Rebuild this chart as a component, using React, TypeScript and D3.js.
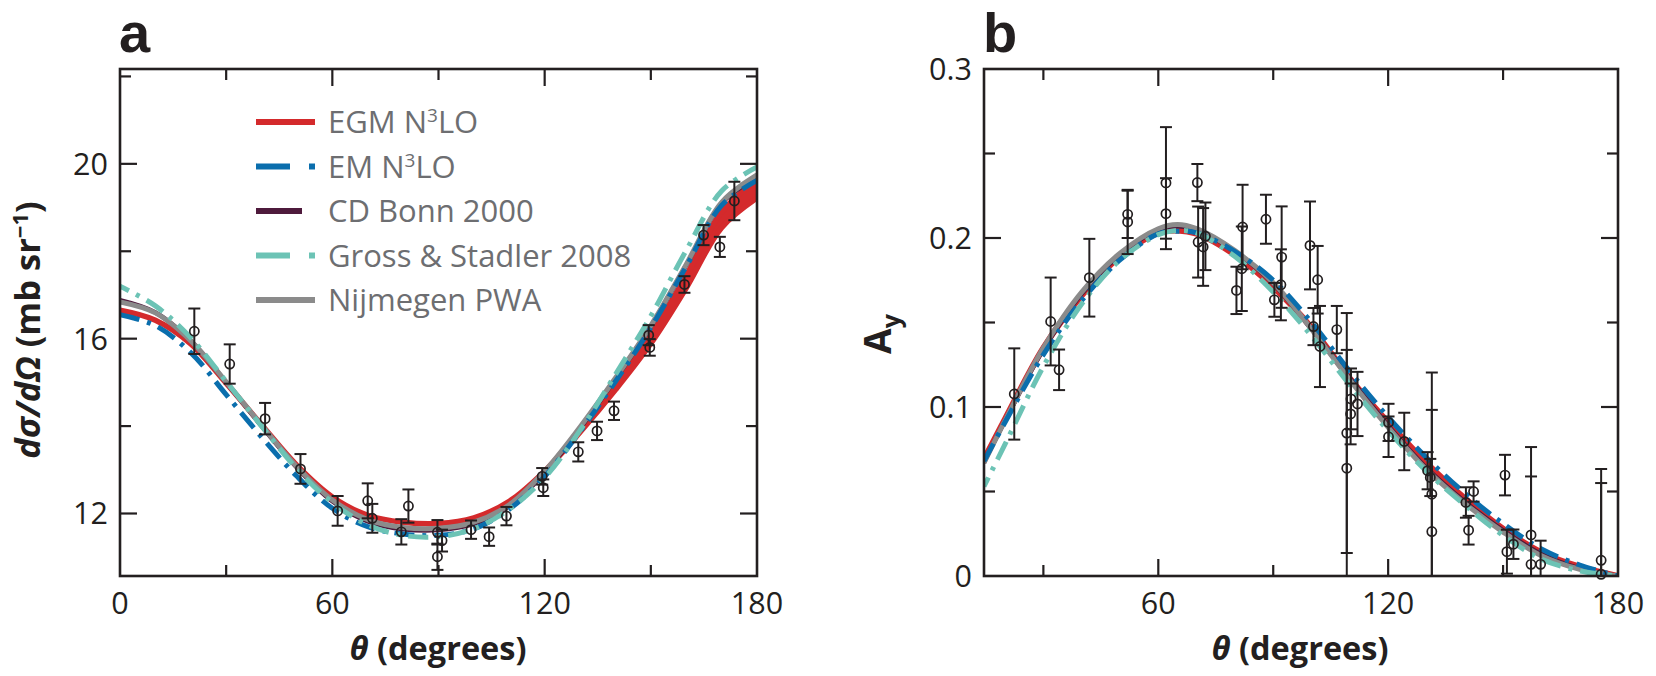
import React from 'react';
import * as d3 from 'd3';

// ---------- Panel a: differential cross section ----------
const thetaA = [0, 10, 20, 30, 40, 50, 60, 70, 80, 90, 100, 110, 120, 130, 140, 150, 160, 170, 180];
const egmA = [16.65, 16.42, 15.88, 14.98, 14.03, 13.1, 12.38, 11.96, 11.8, 11.77, 11.9, 12.28, 12.97, 13.88, 14.88, 15.98, 17.3, 18.72, 19.42];
const egmAHalf = [0, 0, 0, 0, 0, 0, 0, 0, 0, 0, 0, 0, 0, 0.02, 0.05, 0.09, 0.14, 0.18, 0.2];
const emA = [16.55, 16.3, 15.68, 14.72, 13.75, 12.85, 12.12, 11.7, 11.53, 11.5, 11.65, 12.1, 12.85, 13.88, 15.02, 16.25, 17.65, 19.05, 19.62];
const cdBonnA = [16.88, 16.6, 15.95, 15.0, 14.0, 13.05, 12.28, 11.82, 11.64, 11.62, 11.76, 12.17, 12.93, 13.95, 15.08, 16.28, 17.68, 19.1, 19.7];
const grossA = [17.2, 16.75, 16.02, 15.02, 14.0, 13.02, 12.25, 11.74, 11.5, 11.47, 11.65, 12.1, 12.82, 13.9, 15.18, 16.52, 18.02, 19.38, 19.93];
const nijmA = [16.84, 16.59, 15.95, 15.01, 14.02, 13.07, 12.31, 11.86, 11.68, 11.66, 11.8, 12.2, 12.97, 13.98, 15.1, 16.3, 17.7, 19.12, 19.75];

const ptThetaA = [21, 31, 41, 51, 61.5, 70, 71.3, 79.5, 81.5, 89.7, 91, 89.7, 99.2, 104.3, 109.2, 119.3, 119.6, 129.5, 134.8, 139.6, 149.4, 149.7, 159.5, 164.9, 169.5, 173.6];
const ptValA = [16.17, 15.42, 14.17, 13.02, 12.06, 12.29, 11.89, 11.58, 12.17, 11.57, 11.38, 11.01, 11.63, 11.47, 11.94, 12.85, 12.59, 13.41, 13.89, 14.35, 16.08, 15.8, 17.24, 18.37, 18.1, 19.15];
const ptErrA = [0.52, 0.45, 0.36, 0.34, 0.34, 0.4, 0.33, 0.29, 0.38, 0.28, 0.25, 0.3, 0.21, 0.21, 0.21, 0.19, 0.19, 0.22, 0.21, 0.21, 0.23, 0.19, 0.19, 0.23, 0.23, 0.44];

const yTicksA = [12, 14, 16, 18, 20, 22];
const yLabelsA = [12, 16, 20];
const xTicksA = [30, 60, 90, 120, 150];
const xLabelsA = [0, 60, 120, 180];

// ---------- Panel b: analyzing power ----------
const thetaB = [14.5, 20, 30, 40, 50, 60, 65, 70, 80, 90, 100, 110, 120, 130, 140, 150, 160, 170, 180];
const egmB = [0.069, 0.093, 0.135, 0.166, 0.189, 0.203, 0.2045, 0.2025, 0.19, 0.171, 0.147, 0.117, 0.091, 0.067, 0.046, 0.028, 0.014, 0.0055, 0];
const emB = [0.068, 0.091, 0.131, 0.163, 0.187, 0.2025, 0.204, 0.203, 0.192, 0.175, 0.15, 0.121, 0.094, 0.07, 0.049, 0.031, 0.016, 0.0065, 0];
const cdBonnB = [0.067, 0.092, 0.134, 0.167, 0.19, 0.205, 0.207, 0.205, 0.192, 0.173, 0.146, 0.117, 0.089, 0.064, 0.044, 0.027, 0.013, 0.0045, 0];
const grossB = [0.053, 0.078, 0.124, 0.161, 0.187, 0.202, 0.2045, 0.203, 0.189, 0.168, 0.142, 0.113, 0.086, 0.062, 0.042, 0.024, 0.01, 0.003, 0];
const nijmB = [0.067, 0.092, 0.135, 0.168, 0.191, 0.2055, 0.208, 0.2055, 0.1925, 0.1735, 0.146, 0.116, 0.088, 0.063, 0.043, 0.026, 0.012, 0.004, 0];

const ptThetaB = [22.4, 31.9, 34.1, 42, 52, 52, 62, 62, 70.2, 70.4, 71.7, 72.3, 80.4, 82, 81.8, 88.1, 90.3, 92, 92.2, 99.6, 100.5, 101.6, 102.2, 106.6, 109.2, 109.2, 110.2, 110.3, 112, 120.1, 120.1, 124.2, 130.3, 131, 131.4, 131.4, 140.3, 141, 142.3, 150.5, 151, 152.7, 157.3, 157.3, 159.8, 175.6, 175.6];
const ptValB = [0.1077, 0.1506, 0.122, 0.1765, 0.214, 0.2095, 0.2326, 0.2144, 0.2328, 0.1976, 0.1947, 0.201, 0.169, 0.2065, 0.1818, 0.2111, 0.1634, 0.1723, 0.1887, 0.1956, 0.1476, 0.1753, 0.1358, 0.1458, 0.0846, 0.0638, 0.0959, 0.1048, 0.1018, 0.0909, 0.0824, 0.0796, 0.0623, 0.0583, 0.0484, 0.0263, 0.0435, 0.0271, 0.05, 0.0597, 0.0144, 0.0188, 0.0243, 0.0069, 0.0069, 0.0093, 0.001];
const ptErrB = [0.027, 0.026, 0.012, 0.023, 0.014, 0.019, 0.033, 0.021, 0.011, 0.021, 0.023, 0.02, 0.014, 0.025, 0.025, 0.0145, 0.01, 0.021, 0.03, 0.026, 0.011, 0.02, 0.024, 0.014, 0.071, 0.07, 0.018, 0.018, 0.019, 0.011, 0.012, 0.017, 0.011, 0.011, 0.072, 0.072, 0.009, 0.0085, 0.006, 0.012, 0.013, 0.0087, 0.052, 0.052, 0.014, 0.054, 0.054];

const yTicksB = [0.05, 0.1, 0.15, 0.2, 0.25];
const yLabelsB = [0, 0.1, 0.2, 0.3];
const xTicksB = [30, 60, 90, 120, 150];
const xLabelsB = [60, 120, 180];

const legendNames = ['EGM N', 'EM N', 'CD Bonn 2000', 'Gross & Stadler 2008', 'Nijmegen PWA'];

const RED = '#d42a2c';
const BLUE = '#0a6ead';
const PURPLE = '#4e1a3c';
const TEAL = '#6cc3b5';
const GRAY = '#8b8b8b';
const INK = '#231f20';
const FONT = "'Open Sans', 'Noto Sans', sans-serif";

const DASH_PLOT = '20 8 4 8';

type Frame = { x0: number; x1: number; y0: number; y1: number };

function Axes({ fr, x, y, xTicks, yTicks, xMajor, yMajor, xLabels, yLabels, yFmt }: any) {
  const els: any[] = [];
  const maj = 17, min = 11;
  xTicks.forEach((t: number, i: number) => {
    const L = xMajor.includes(t) ? maj : min;
    const px = x(t);
    els.push(<line key={'xb' + i} x1={px} x2={px} y1={fr.y1} y2={fr.y1 - L} stroke={INK} strokeWidth={2.2} />);
    els.push(<line key={'xt' + i} x1={px} x2={px} y1={fr.y0} y2={fr.y0 + L} stroke={INK} strokeWidth={2.2} />);
  });
  yTicks.forEach((t: number, i: number) => {
    const L = yMajor.includes(t) ? maj : min;
    const py = y(t);
    els.push(<line key={'yl' + i} x1={fr.x0} x2={fr.x0 + L} y1={py} y2={py} stroke={INK} strokeWidth={2.2} />);
    els.push(<line key={'yr' + i} x1={fr.x1} x2={fr.x1 - L} y1={py} y2={py} stroke={INK} strokeWidth={2.2} />);
  });
  xLabels.forEach((t: number, i: number) => {
    els.push(
      <text key={'xlab' + i} x={x(t)} y={fr.y1 + 38} textAnchor="middle" fontSize={30.5} fill={INK} fontFamily={FONT}>
        {t}
      </text>
    );
  });
  yLabels.forEach((t: number, i: number) => {
    els.push(
      <text key={'ylab' + i} x={fr.x0 - 12} y={y(t) + 11} textAnchor="end" fontSize={30.5} fill={INK} fontFamily={FONT}>
        {yFmt(t)}
      </text>
    );
  });
  els.push(<rect key="frame" x={fr.x0} y={fr.y0} width={fr.x1 - fr.x0} height={fr.y1 - fr.y0} fill="none" stroke={INK} strokeWidth={2.6} />);
  return <g>{els}</g>;
}

function Points({ x, y, th, val, err, yMin, yMax }: any) {
  return (
    <g stroke={INK} strokeWidth={2} fill="none">
      {th.map((t: number, i: number) => {
        const top = Math.min(val[i] + err[i], yMax);
        const bot = Math.max(val[i] - err[i], yMin);
        const px = x(t);
        const cap = 6;
        return (
          <g key={i}>
            <line x1={px} x2={px} y1={y(top)} y2={y(bot)} />
            {val[i] + err[i] <= yMax && <line x1={px - cap} x2={px + cap} y1={y(top)} y2={y(top)} />}
            {val[i] - err[i] >= yMin && <line x1={px - cap} x2={px + cap} y1={y(bot)} y2={y(bot)} />}
            <circle cx={px} cy={y(val[i])} r={4.6} fill="none" strokeWidth={1.7} />
          </g>
        );
      })}
    </g>
  );
}

export default function App() {
  // panel a
  const frA: Frame = { x0: 120, x1: 757, y0: 69, y1: 576 };
  const xA = d3.scaleLinear().domain([0, 180]).range([frA.x0, frA.x1]);
  const yA = d3.scaleLinear().domain([10.57, 22.17]).range([frA.y1, frA.y0]);
  // panel b
  const frB: Frame = { x0: 984, x1: 1618, y0: 69, y1: 576 };
  const xB = d3.scaleLinear().domain([14.5, 180]).range([frB.x0, frB.x1]);
  const yB = d3.scaleLinear().domain([0, 0.3]).range([frB.y1, frB.y0]);

  const curve = d3.curveCatmullRom.alpha(0.5);
  const lineA = (vals: number[]) =>
    d3.line<number>().x((_, i) => xA(thetaA[i])).y((v) => yA(v)).curve(curve)(vals) || '';
  const lineB = (vals: number[]) =>
    d3.line<number>().x((_, i) => xB(thetaB[i])).y((v) => yB(v)).curve(curve)(vals) || '';
  const bandA =
    d3
      .area<number>()
      .x((_, i) => xA(thetaA[i]))
      .y0((v, i) => yA(v - egmAHalf[i]))
      .y1((v, i) => yA(v + egmAHalf[i]))
      .curve(curve)(egmA) || '';

  const legY0 = 122;
  const legDY = 44.5;

  return (
    <svg width={1656} height={676} style={{ position: 'absolute', left: 0, top: 0, background: '#fff' }}>
      <defs>
        <clipPath id="clipA">
          <rect x={frA.x0} y={frA.y0} width={frA.x1 - frA.x0} height={frA.y1 - frA.y0} />
        </clipPath>
        <clipPath id="clipB">
          <rect x={frB.x0} y={frB.y0} width={frB.x1 - frB.x0} height={frB.y1 - frB.y0} />
        </clipPath>
      </defs>
      <rect x={0} y={0} width={1656} height={676} fill="#fff" />

      {/* Panel letters */}
      <text x={119} y={52} fontSize={56} fontWeight={700} fill={INK} fontFamily="'Liberation Sans', Arial, sans-serif">a</text>
      <text x={983} y={52} fontSize={56} fontWeight={700} fill={INK} fontFamily="'Liberation Sans', Arial, sans-serif">b</text>

      {/* Panel a curves */}
      <g clipPath="url(#clipA)" fill="none" strokeLinecap="butt">
        <path d={bandA} fill={RED} stroke={RED} strokeWidth={5.5} />
        <path d={lineA(cdBonnA)} stroke={PURPLE} strokeWidth={4.5} />
        <path d={lineA(nijmA)} stroke={GRAY} strokeWidth={5} />
        <path d={lineA(emA)} stroke={BLUE} strokeWidth={5} strokeDasharray={DASH_PLOT} />
        <path d={lineA(grossA)} stroke={TEAL} strokeWidth={5} strokeDasharray={DASH_PLOT} strokeDashoffset={10} />
      </g>

      {/* Legend */}
      <g fontFamily={FONT} fontSize={31} fill="#6d6e71">
        {legendNames.map((nm, i) => {
          const cy = legY0 + i * legDY;
          const color = [RED, BLUE, PURPLE, TEAL, GRAY][i];
          const dashed = i === 1 || i === 3;
          const x2 = i === 2 ? 302 : 315;
          return (
            <g key={nm}>
              <line x1={256} x2={x2} y1={cy} y2={cy} stroke={color} strokeWidth={6} strokeDasharray={dashed ? '34 19 7 60' : undefined} />
              <text x={328} y={cy + 11}>
                {i < 2 ? (
                  <>
                    <tspan>{nm}</tspan>
                    <tspan dy={-11} fontSize={19}>3</tspan>
                    <tspan dy={11}>LO</tspan>
                  </>
                ) : (
                  nm
                )}
              </text>
            </g>
          );
        })}
      </g>

      <Points x={xA} y={yA} th={ptThetaA} val={ptValA} err={ptErrA} yMin={10.57} yMax={22.17} />
      <Axes fr={frA} x={xA} y={yA} xTicks={xTicksA} yTicks={yTicksA} xMajor={[60, 120]} yMajor={[12, 16, 20]} xLabels={xLabelsA} yLabels={yLabelsA} yFmt={(t: number) => String(t)} />

      {/* Panel b curves */}
      <g clipPath="url(#clipB)" fill="none">
        <path d={lineB(egmB)} stroke={RED} strokeWidth={6} />
        <path d={lineB(cdBonnB)} stroke={PURPLE} strokeWidth={4.5} />
        <path d={lineB(nijmB)} stroke={GRAY} strokeWidth={5} />
        <path d={lineB(emB)} stroke={BLUE} strokeWidth={5} strokeDasharray={DASH_PLOT} />
        <path d={lineB(grossB)} stroke={TEAL} strokeWidth={5} strokeDasharray={DASH_PLOT} strokeDashoffset={10} />
      </g>
      <Points x={xB} y={yB} th={ptThetaB} val={ptValB} err={ptErrB} yMin={0} yMax={0.3} />
      <Axes fr={frB} x={xB} y={yB} xTicks={xTicksB} yTicks={yTicksB} xMajor={[60, 120]} yMajor={[0.1, 0.2]} xLabels={xLabelsB} yLabels={yLabelsB} yFmt={(t: number) => (t === 0 ? '0' : t.toFixed(1))} />

      {/* Axis titles */}
      <g fontFamily={FONT} fontWeight={700} fill={INK} fontSize={32.5}>
        <text x={438} y={660} textAnchor="middle">
          <tspan fontStyle="italic">θ</tspan> (degrees)
        </text>
        <text x={1300} y={660} textAnchor="middle">
          <tspan fontStyle="italic">θ</tspan> (degrees)
        </text>
        <text transform="translate(40,330) rotate(-90)" textAnchor="middle" fontSize={34.5}>
          <tspan fontStyle="italic">dσ/dΩ</tspan> (mb sr<tspan dy={-12} fontSize={22}>−1</tspan><tspan dy={12}>)</tspan>
        </text>
        <text transform="translate(891,334) rotate(-90)" textAnchor="middle" fontSize={37}>
          A<tspan dy={9} fontSize={25}>y</tspan>
        </text>
      </g>
    </svg>
  );
}
